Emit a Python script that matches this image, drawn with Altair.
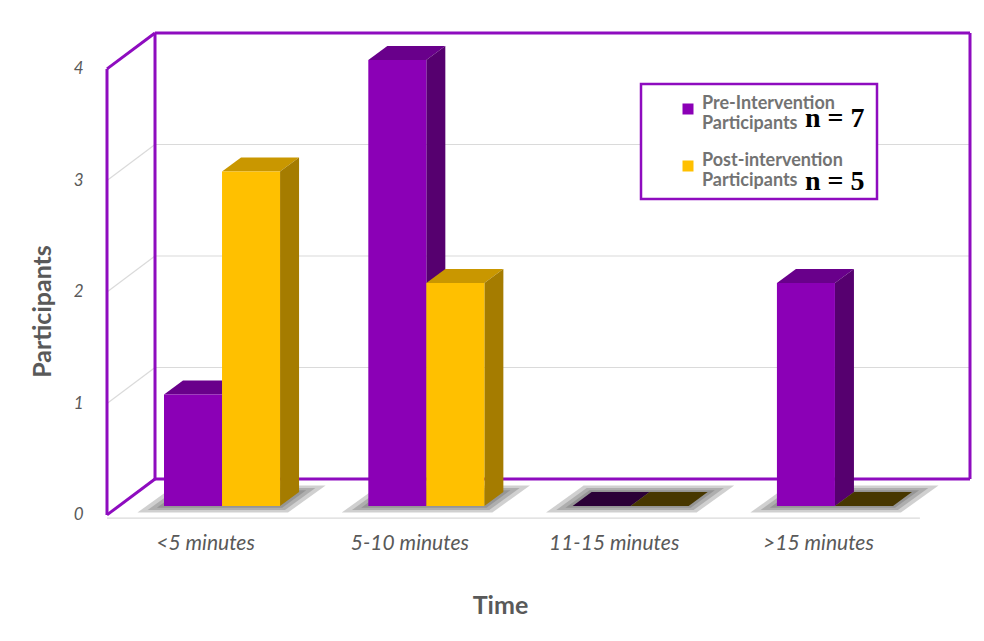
import altair as alt
import pandas as pd

# ---------------- data ----------------
categories = ["<5 minutes", "5-10 minutes", "11-15 minutes", ">15 minutes"]
series = ["Pre-Intervention Participants", "Post-intervention Participants"]
pre_values = [1, 4, 0, 2]
post_values = [3, 2, 0, 0]
y_ticks = [0, 1, 2, 3, 4]

# ---------------- styles ----------------
front_colors = ["#8B00B6", "#FFC000"]
top_colors = ["#69008B", "#C99700"]
side_colors = ["#56006F", "#A57C00"]
flat_colors = ["#2B0037", "#473700"]
FRAME = "#8E0CBF"
GRID = "#DADADA"
TXT = "#595959"
FONT = "Lato"

# geometry of the pseudo-3D view (data units)
HALF = 0.284
DX, DY = 0.093, 0.126
XL, XB0, XBR = -0.563, -0.328, 3.661
YF, YB = -0.08, 0.242
XFLOOR = 3.416

xscale = alt.Scale(domain=[XL, XBR], nice=False, zero=False)
yscale = alt.Scale(domain=[-0.1256, 4.242], nice=False, zero=False)

label_expr = "[" + ",".join(f"'{c}'" for c in categories) + "][datum.value]"
x_axis = alt.Axis(values=list(range(len(categories))), labelExpr=label_expr,
                  domain=False, ticks=False, grid=False,
                  labelFont=FONT, labelFontStyle="italic", labelFontSize=21,
                  labelColor=TXT, labelPadding=12, labelOffset=-17,
                  title="Time", titleFont=FONT, titleFontSize=25,
                  titleFontWeight="bold", titleColor=TXT,
                  titleX=393, titleY=85, titleAlign="center", titleBaseline="middle")
y_axis = alt.Axis(values=y_ticks, domain=False, ticks=False, grid=False,
                  labelFont=FONT, labelFontStyle="italic", labelFontSize=17,
                  labelColor=TXT, labelPadding=24, labelOffset=9,
                  title="Participants", titleFont=FONT, titleFontSize=25,
                  titleFontWeight="bold", titleColor=TXT, titleAngle=270,
                  titleX=-65, titleY=278, titleAlign="center", titleBaseline="middle")

values = [pre_values, post_values]

front_rows, top_rows, side_rows, shadow_rows = [], [], [], []
for i, cat in enumerate(categories):
    gx0 = i - HALF
    gx1 = i + HALF
    # three nested soft layers imitate the blurred floor shadow
    for k, grow in enumerate([0.13, 0.08, 0.035]):
        sid = f"sh{i}-{k}"
        gy = grow * 0.45
        shadow_rows += [
            dict(id=sid, y=-gy, xa=gx0 - grow, xb=gx1 + grow * 0.3),
            dict(id=sid, y=DY + gy, xa=gx0 + DX - grow * 0.3, xb=gx1 + DX + grow),
        ]
    for s in range(2):
        v = values[s][i]
        x0 = i - HALF + s * HALF
        x1 = x0 + HALF
        bid = f"{s}-{i}"
        fill_top = top_colors[s] if v > 0 else flat_colors[s]
        top_rows += [
            dict(id=bid, s=s, y=v, xa=x0, xb=x1, fill=fill_top),
            dict(id=bid, s=s, y=v + DY, xa=x0 + DX, xb=x1 + DX, fill=fill_top),
        ]
        if v > 0:
            side_rows += [
                dict(id=bid, s=s, x=x1, ya=v, yb=0, fill=side_colors[s]),
                dict(id=bid, s=s, x=x1 + DX, ya=v + DY, yb=DY, fill=side_colors[s]),
            ]
            front_rows.append(dict(series=series[s], cat=cat, x0=x0, x1=x1, y0=0, v=v))

front_df = pd.DataFrame(front_rows)
top_df = pd.DataFrame(top_rows)
side_df = pd.DataFrame(side_rows)
shadow_df = pd.DataFrame(shadow_rows)

frame_rows = [
    dict(x=XL, x2=XL, y=YF, y2=4 + YF),
    dict(x=XL, x2=XB0, y=4 + YF, y2=4 + YB),
    dict(x=XL, x2=XB0, y=YF, y2=YB),
    dict(x=XB0, x2=XB0, y=YB, y2=4 + YB),
    dict(x=XB0, x2=XBR, y=4 + YB, y2=4 + YB),
    dict(x=XBR, x2=XBR, y=YB, y2=4 + YB),
    dict(x=XB0, x2=XBR, y=YB, y2=YB),
]
grid_rows = []
for t in y_ticks[1:-1]:
    grid_rows.append(dict(x=XB0, x2=XBR, y=t + YB, y2=t + YB))
    grid_rows.append(dict(x=XL, x2=XB0, y=t + YF, y2=t + YB))
grid_rows.append(dict(x=XL, x2=XFLOOR, y=-0.108, y2=-0.108))
frame_df = pd.DataFrame(frame_rows)
grid_df = pd.DataFrame(grid_rows)


def X(f, **kw):
    return alt.X(f, scale=xscale, axis=x_axis, **kw)


def Y(f, **kw):
    return alt.Y(f, scale=yscale, axis=y_axis, **kw)


grid = alt.Chart(grid_df).mark_rule(color=GRID, strokeWidth=1.2).encode(
    x=X("x:Q"), x2="x2:Q", y=Y("y:Q"), y2="y2:Q")
frame = alt.Chart(frame_df).mark_rule(color=FRAME, strokeWidth=3).encode(
    x=X("x:Q"), x2="x2:Q", y=Y("y:Q"), y2="y2:Q")

shadow = alt.Chart(shadow_df).mark_area(orient="horizontal", color="#555555", opacity=0.28).encode(
    y=Y("y:Q", stack=None), x=X("xa:Q", stack=None), x2="xb:Q", detail="id:N")


def top_layer(s):
    return alt.Chart(top_df[top_df.s == s]).mark_area(orient="horizontal").encode(
        y=Y("y:Q", stack=None), x=X("xa:Q", stack=None), x2="xb:Q", detail="id:N",
        color=alt.Color("fill:N", scale=None))


def side_layer(s):
    return alt.Chart(side_df[side_df.s == s]).mark_area(orient="vertical").encode(
        x=X("x:Q", stack=None), y=Y("ya:Q", stack=None), y2="yb:Q", detail="id:N",
        color=alt.Color("fill:N", scale=None))


legend = alt.Legend(title=None, orient="none", legendX=572, legendY=67,
                    symbolType="square", symbolSize=121, symbolStrokeWidth=0,
                    labelFont=FONT, labelFontWeight="bold", labelFontSize=18,
                    labelColor="#737373", labelExpr="split(datum.label, ' ')",
                    labelOffset=5, rowPadding=19, padding=0,
                    labelBaseline="alphabetic", labelLimit=300)

fronts = alt.Chart(front_df).mark_rect().encode(
    x=X("x0:Q"), x2="x1:Q", y=Y("y0:Q"), y2="v:Q",
    color=alt.Color("series:N", scale=alt.Scale(domain=series, range=front_colors),
                    legend=legend),
)
legend_box = alt.Chart().mark_rect(fill="white", stroke=FRAME, strokeWidth=2.5).encode(
    x=alt.value(534), x2=alt.value(770), y=alt.value(51), y2=alt.value(166))
n_pre = alt.Chart().mark_text(text=f"n = {sum(pre_values)}", font="Liberation Serif",
                              fontWeight="bold", fontSize=28, color="black",
                              align="left", baseline="alphabetic").encode(
    x=alt.value(698), y=alt.value(94))
n_post = alt.Chart().mark_text(text=f"n = {sum(post_values)}", font="Liberation Serif",
                               fontWeight="bold", fontSize=28, color="black",
                               align="left", baseline="alphabetic").encode(
    x=alt.value(698), y=alt.value(157))

chart = alt.layer(
    grid, frame, shadow,
    top_layer(0), side_layer(0), top_layer(1), side_layer(1),
    legend_box, fronts, n_pre, n_post,
).resolve_scale(color="independent").properties(
    width=863, height=487,
    autosize=alt.AutoSizeParams(type="none"),
    padding={"left": 107, "top": 33, "right": 14, "bottom": 121},
    background="white",
).configure_view(stroke=None)

chart.save("out.html", embed_options={"renderer": "svg", "actions": False})
